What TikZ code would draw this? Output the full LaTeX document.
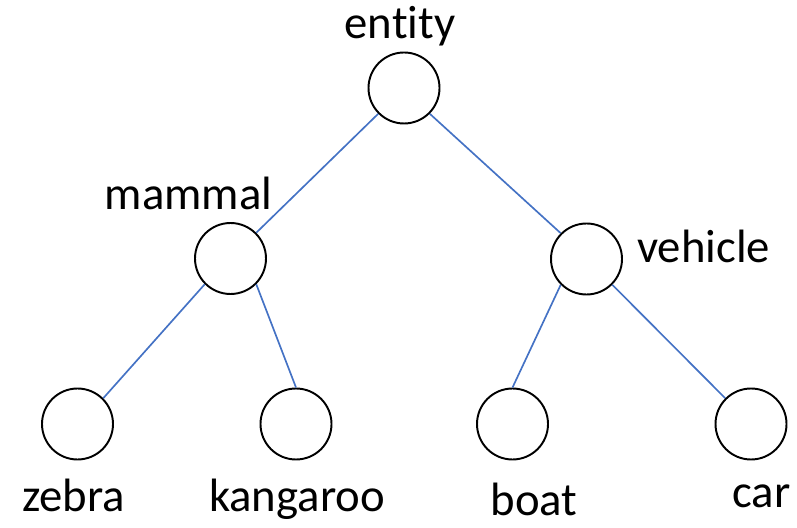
\documentclass[tikz,border=0pt]{standalone}
\usepackage{fontspec}
\setmainfont[Ligatures=NoCommon]{Carlito}

\definecolor{linkblue}{RGB}{68,114,196}

\begin{document}
\begin{tikzpicture}[
	concept/.style={circle, draw=black, line width=1.1pt, minimum size=1.42cm, inner sep=0pt},
	link/.style={linkblue, line width=0.95pt},
	word/.style={anchor=base, inner sep=0pt, font=\fontsize{26.6}{30}\selectfont}
	]
	
	% Marco del dibujo
	\useasboundingbox (0,0) rectangle (15.94,10.54);
	
	% Nodos del arbol
	\node[concept] (entity)   at (8.08,8.78) {};
	\node[concept] (mammal)   at (4.61,5.37) {};
	\node[concept] (vehicle)  at (11.73,5.36) {};
	\node[concept] (zebra)    at (1.55,2.06) {};
	\node[concept] (kangaroo) at (5.92,2.06) {};
	\node[concept] (boat)     at (10.25,2.06) {};
	\node[concept] (car)      at (15.02,2.06) {};
	
	% Etiquetas
	\node[word] (entitytxt)   at (8.00,9.76)  {entity};
	\node[word] (mammaltxt)   at (3.77,6.34)  {mammal};
	\node[word] (vehicletxt)  at (14.07,5.28) {vehicle};
	\node[word] (zebratxt)    at (1.47,0.30)  {zebra};
	\node[word] (kangarootxt) at (5.94,0.30)  {kangaroo};
	\node[word] (boattxt)     at (10.68,0.24) {boat};
	\node[word] (cartxt)      at (15.23,0.38) {car};
	
	% Aristas
	\draw[link] (entity.south west) -- (mammal.north east);
	\draw[link] (entity.south east) -- (vehicle.north west);
	\draw[link] (mammal.south west) -- (zebra.north east);
	\draw[link] (mammal.south east) -- (kangaroo.north);
	\draw[link] (vehicle.south west) -- (boat.north);
	\draw[link] (vehicle.south east) -- (car.north west);
	
\end{tikzpicture}
\end{document}
